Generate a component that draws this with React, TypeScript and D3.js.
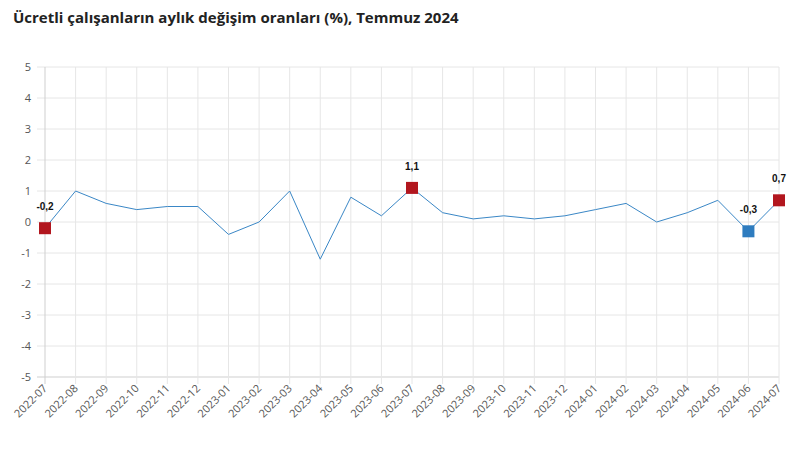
import React from "react";
import * as d3 from "d3";

const categories = [
  "2022-07","2022-08","2022-09","2022-10","2022-11","2022-12",
  "2023-01","2023-02","2023-03","2023-04","2023-05","2023-06",
  "2023-07","2023-08","2023-09","2023-10","2023-11","2023-12",
  "2024-01","2024-02","2024-03","2024-04","2024-05","2024-06","2024-07",
];
const values = [
  -0.2, 1.0, 0.6, 0.4, 0.5, 0.5,
  -0.4, 0.0, 1.0, -1.2, 0.8, 0.2,
  1.1, 0.3, 0.1, 0.2, 0.1, 0.2,
  0.4, 0.6, 0.0, 0.3, 0.7, -0.3, 0.7,
];
const highlights = [
  { cat: "2022-07", color: "#b2161e" },
  { cat: "2023-07", color: "#b2161e" },
  { cat: "2024-06", color: "#2e7cbf" },
  { cat: "2024-07", color: "#b2161e" },
];
const yTicks = [-5, -4, -3, -2, -1, 0, 1, 2, 3, 4, 5];
const title = "Ücretli çalışanların aylık değişim oranları (%), Temmuz 2024";

const W = 801, H = 475;
const left = 45, right = 779, top = 67, bottom = 377;

export default function App() {
  const x = d3.scalePoint<string>().domain(categories).range([left, right]);
  const y = d3.scaleLinear().domain([-5, 5]).range([bottom, top]);
  const line = d3.line<number>().x((_, i) => x(categories[i])!).y((d) => y(d));
  const fmt = (v: number) => d3.format(".1f")(v).replace(".", ",").replace("−", "-");

  return (
    <svg width={W} height={H} style={{ position: "absolute", left: 0, top: 0, background: "#fff" }}
      fontFamily="'Open Sans', sans-serif">
      <text x={13} y={23} fontSize={15} fontWeight={700} fill="#222">{title}</text>
      {yTicks.map((t) => (
        <line key={"h" + t} x1={left - 8} x2={right} y1={y(t)} y2={y(t)}
          stroke={t === -5 ? "#cfcfcf" : "#e6e6e6"} strokeWidth={1} />
      ))}
      {categories.map((c) => (
        <line key={"v" + c} x1={x(c)} x2={x(c)} y1={top} y2={bottom + 7}
          stroke={c === categories[0] ? "#cfcfcf" : "#e6e6e6"} strokeWidth={1} />
      ))}
      {yTicks.map((t) => (
        <text key={"yt" + t} x={31} y={y(t)} dy="0.35em" textAnchor="end" fontSize={11} fill="#555">
          {t < 0 ? "-" + Math.abs(t) : String(t)}
        </text>
      ))}
      {categories.map((c) => (
        <text key={"xt" + c} transform={`translate(${x(c)! + 3},${bottom + 12}) rotate(-45)`}
          textAnchor="end" fontSize={11} fill="#555">{c}</text>
      ))}
      <path d={line(values)!} fill="none" stroke="#3a87c6" strokeWidth={1} />
      {highlights.map((h) => {
        const i = categories.indexOf(h.cat);
        const cx = x(h.cat)!, cy = y(values[i]);
        return (
          <g key={"m" + h.cat}>
            <rect x={cx - 6} y={cy - 6} width={12} height={12} fill={h.color} />
            <text x={cx} y={cy - 18} textAnchor="middle" fontSize={10} fontWeight={700}
              fontFamily="'Liberation Sans', Arial, sans-serif" fill="#111">{fmt(values[i])}</text>
          </g>
        );
      })}
    </svg>
  );
}
